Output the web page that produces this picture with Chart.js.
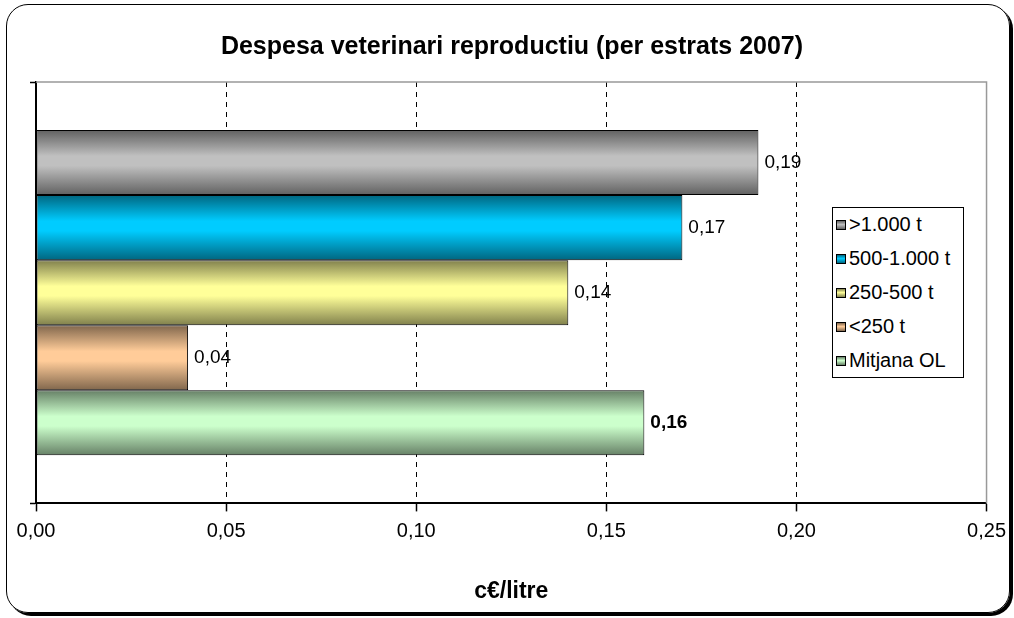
<!DOCTYPE html>
<html>
<head>
<meta charset="utf-8">
<script src="https://cdn.jsdelivr.net/npm/chart.js@4/dist/chart.umd.min.js"></script>
<style>
html,body{margin:0;padding:0;background:#fff;}
#wrap{position:relative;width:1014px;height:618px;overflow:hidden;font-family:Arial,"Liberation Sans",sans-serif;}
#frame{position:absolute;left:6px;top:4px;width:1004px;height:609px;box-sizing:border-box;border:1.5px solid #000;border-radius:22px;box-shadow:3px 3px 0 #000;}
#c{position:absolute;left:0;top:0;}
#legend{position:absolute;left:832px;top:207px;width:132px;height:171px;box-sizing:border-box;border:1px solid #000;background:#fff;}
.item{position:absolute;left:3px;height:24px;line-height:24px;font-size:20px;white-space:nowrap;color:#000;}
.sw{display:inline-block;width:8px;height:8px;border:1px solid #000;margin-right:3px;vertical-align:middle;position:relative;top:-1px;}
</style>
</head>
<body>
<div id="wrap">
  <div id="frame"></div>
  <canvas id="c" width="1014" height="618"></canvas>
  <div id="legend"></div>
</div>
<script>
// ---- data ----
const categories = [''];
const seriesLabels = ['>1.000 t', '500-1.000 t', '250-500 t', '<250 t', 'Mitjana OL'];
const seriesValues = [0.19, 0.17, 0.14, 0.04, 0.16];
const xTickValues = [0, 0.05, 0.10, 0.15, 0.20, 0.25];
const centerColors = ['#c0c0c0', '#00ccff', '#ffff99', '#ffcc99', '#ccffcc'];
const edgeColors = ['#606060', '#006680', '#80804c', '#80664c', '#668066'];
const boldSeries = [false, false, false, false, true];

const CAT_PCT = 0.772;
const fmt = v => Number(v).toFixed(2).replace('.', ',');

function barGradient(context) {
  const chart = context.chart;
  const ys = chart.scales.y;
  const i = context.datasetIndex;
  if (!chart.chartArea || !ys || ys.bottom === undefined) return centerColors[i];
  const n = chart.data.datasets.length;
  const center = ys.getPixelForValue(0);
  const catH = ys.bottom - ys.top;
  const groupH = catH * CAT_PCT;
  const barH = groupH / n;
  const top = center - groupH / 2 + i * barH;
  const g = chart.ctx.createLinearGradient(0, top, 0, top + barH);
  g.addColorStop(0, edgeColors[i]);
  g.addColorStop(0.4, centerColors[i]);
  g.addColorStop(0.55, centerColors[i]);
  g.addColorStop(1, edgeColors[i]);
  return g;
}

const datasets = seriesLabels.map((lab, i) => ({
  label: lab,
  data: [seriesValues[i]],
  backgroundColor: barGradient,
  borderColor: '#000',
  borderWidth: 1,
  borderSkipped: false,
  categoryPercentage: CAT_PCT,
  barPercentage: 1
}));

const plotFrame = {
  id: 'plotFrame',
  beforeDatasetsDraw(chart) {
    const a = chart.chartArea, c = chart.ctx;
    c.save();
    c.strokeStyle = '#999';
    c.lineWidth = 1.5;
    c.beginPath();
    c.moveTo(a.left, a.top);
    c.lineTo(a.right, a.top);
    c.lineTo(a.right, a.bottom);
    c.stroke();
    c.restore();
  }
};

const valueLabels = {
  id: 'valueLabels',
  afterDatasetsDraw(chart) {
    const c = chart.ctx;
    chart.data.datasets.forEach((ds, i) => {
      const meta = chart.getDatasetMeta(i);
      meta.data.forEach((el, j) => {
        c.save();
        c.font = (boldSeries[i] ? 'bold ' : '') + '19px Arial, "Liberation Sans", sans-serif';
        c.fillStyle = '#000';
        c.textAlign = 'left';
        c.textBaseline = 'middle';
        c.fillText(fmt(ds.data[j]), el.x + 6, el.y);
        c.restore();
      });
    });
  }
};

const chart = new Chart(document.getElementById('c'), {
  type: 'bar',
  data: { labels: categories, datasets },
  options: {
    indexAxis: 'y',
    responsive: false,
    animation: false,
    events: [],
    layout: { padding: { left: 30, right: 20, top: 0, bottom: 5 } },
    plugins: {
      legend: { display: false },
      tooltip: { enabled: false },
      title: {
        display: true,
        text: 'Despesa veterinari reproductiu (per estrats 2007)',
        color: '#000',
        font: { family: 'Arial, "Liberation Sans", sans-serif', size: 25, weight: 'bold' },
        padding: { top: 32, bottom: 20 }
      }
    },
    scales: {
      x: {
        type: 'linear',
        position: 'bottom',
        min: 0,
        max: 0.25,
        afterBuildTicks: s => { s.ticks = xTickValues.map(v => ({ value: v })); },
        ticks: {
          color: '#000',
          padding: 8,
          font: { family: 'Arial, "Liberation Sans", sans-serif', size: 20 },
          callback: v => fmt(v)
        },
        grid: {
          color: ctx => (ctx.tick && (ctx.tick.value === 0 || ctx.tick.value === 0.25)) ? 'rgba(0,0,0,0)' : '#000',
          lineWidth: 1,
          tickColor: '#000',
          tickLength: 8,
          tickWidth: 1.5,
          tickBorderDash: []
        },
        border: { display: true, color: '#000', width: 2, dash: [5, 5] },
        title: {
          display: true,
          text: 'c€/litre',
          color: '#000',
          font: { family: 'Arial, "Liberation Sans", sans-serif', size: 23, weight: 'bold' },
          padding: { top: 26, bottom: 8 }
        }
      },
      y: {
        type: 'category',
        ticks: { display: false },
        grid: {
          drawOnChartArea: false,
          drawTicks: true,
          tickLength: 6,
          tickColor: '#000',
          tickWidth: 1.5,
          offset: true
        },
        border: { display: true, color: '#000', width: 2 }
      }
    }
  },
  plugins: [plotFrame, valueLabels]
});

// HTML legend built from the same series arrays
const legendEl = document.getElementById('legend');
const legendTops = [4, 38, 72, 106, 140];
seriesLabels.forEach((lab, i) => {
  const it = document.createElement('div');
  it.className = 'item';
  it.style.top = legendTops[i] + 'px';
  const sw = document.createElement('span');
  sw.className = 'sw';
  sw.style.background = 'linear-gradient(to bottom,' + edgeColors[i] + ' 0%,' + centerColors[i] + ' 45%,' + edgeColors[i] + ' 100%)';
  it.appendChild(sw);
  it.appendChild(document.createTextNode(lab));
  legendEl.appendChild(it);
});
</script>
</body>
</html>
